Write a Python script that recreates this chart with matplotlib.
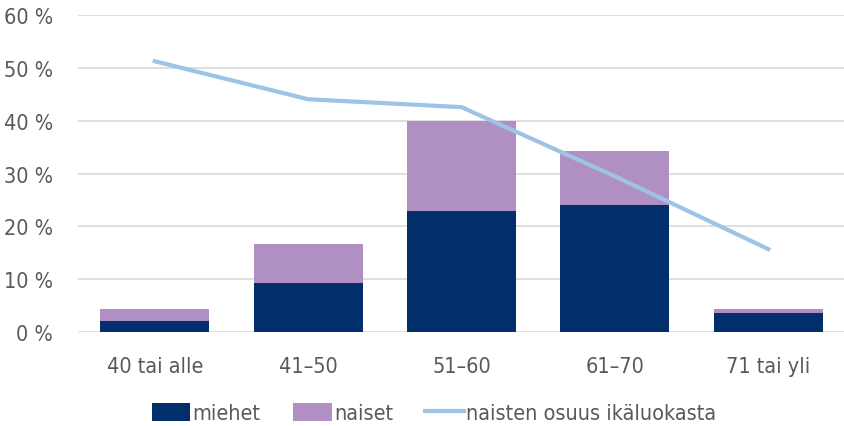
import matplotlib.pyplot as plt
import numpy as np

plt.rcParams['font.family'] = ['DejaVu Sans']
plt.rcParams['font.stretch'] = 'condensed'

# Data
categories = ['40 tai alle', '41–50', '51–60', '61–70', '71 tai yli']
miehet = [2.0, 9.3, 22.9, 24.1, 3.6]
naiset = [2.3, 7.4, 17.1, 10.1, 0.7]
naisten_osuus = [51.3, 44.1, 42.6, 29.5, 15.7]

c_miehet = '#002F6C'
c_naiset = '#B090C2'
c_line = '#9DC3E6'
c_text = '#595959'

fig = plt.figure(figsize=(8.45, 4.27), dpi=100)
ax = fig.add_axes([78 / 845, 1 - 333 / 427, 1 - 78 / 845, (333 - 16.3) / 427])

x = np.arange(len(categories))
b1 = ax.bar(x, miehet, width=0.71, color=c_miehet, label='miehet', zorder=2)
b2 = ax.bar(x, naiset, width=0.71, bottom=miehet, color=c_naiset, label='naiset', zorder=2)
ln, = ax.plot(x, naisten_osuus, color=c_line, linewidth=3, label='naisten osuus ikäluokasta', zorder=3)

ax.set_xlim(-0.5, len(categories) - 0.5)
ax.set_ylim(0, 60)
ax.set_yticks(range(0, 61, 10))
ax.set_yticklabels([f'{v} %' for v in range(0, 61, 10)])
ax.set_xticks(x)
ax.set_xticklabels(categories)
ax.grid(axis='y', color='#D9D9D9', linewidth=1.2, zorder=0)
ax.set_axisbelow(True)
for s in ax.spines.values():
    s.set_visible(False)
ax.tick_params(axis='both', length=0, labelsize=15.5, colors=c_text)
ax.tick_params(axis='y', pad=18)
ax.tick_params(axis='x', pad=17)

leg = fig.legend(handles=[b1, b2, ln], loc='center', bbox_to_anchor=(434 / 845, 1 - 414 / 427), ncol=3,
                 frameon=False, fontsize=15.5, handlelength=1.8, handleheight=0.9,
                 handletextpad=0.1, columnspacing=1.5)
for t in leg.get_texts():
    t.set_color(c_text)

fig.savefig('out.png', dpi=100)
